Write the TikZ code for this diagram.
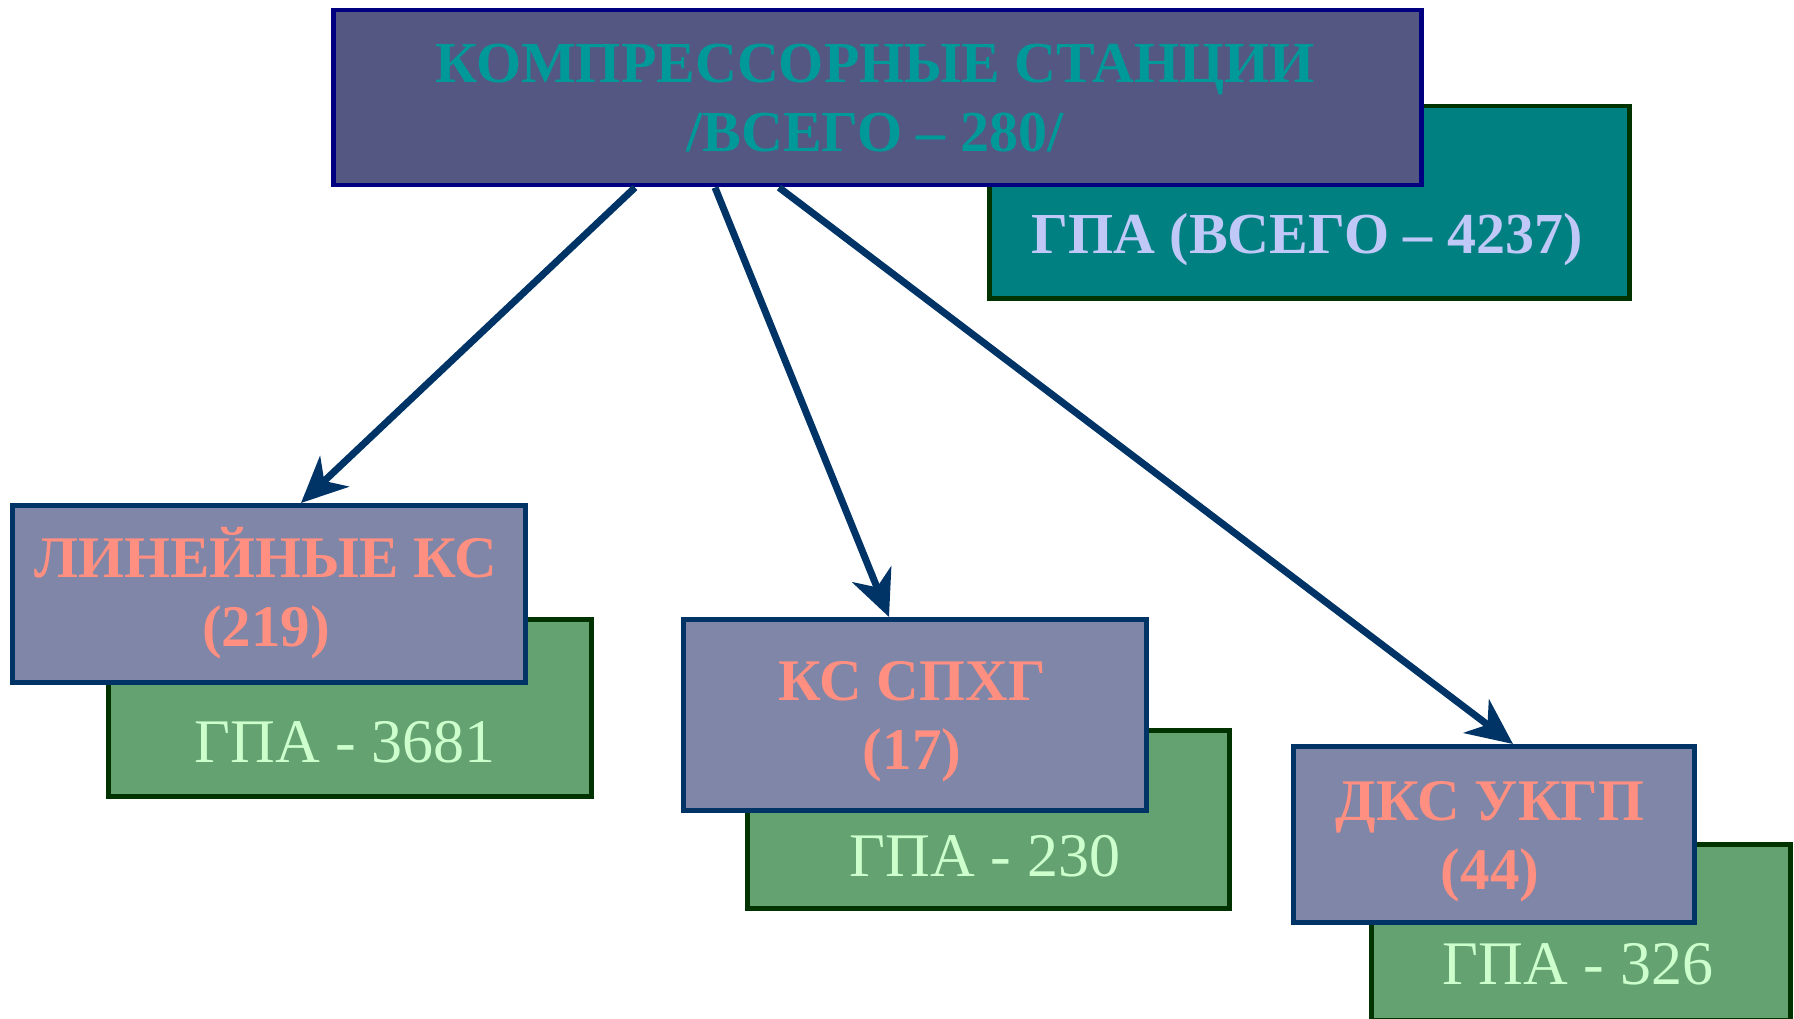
\documentclass[tikz,border=0pt]{standalone}
\usepackage{fontspec}
\setmainfont{Liberation Serif}
\usetikzlibrary{arrows.meta,calc}
\definecolor{topfill}{HTML}{545782}
\definecolor{topdraw}{HTML}{000080}
\definecolor{tealfill}{HTML}{008080}
\definecolor{darkgr}{HTML}{003300}
\definecolor{midfill}{HTML}{7F86A8}
\definecolor{navy}{HTML}{003366}
\definecolor{grfill}{HTML}{64A272}
\definecolor{titletxt}{HTML}{009999}
\definecolor{lavtxt}{HTML}{C0C8F8}
\definecolor{salmon}{HTML}{FF8F80}
\definecolor{mint}{HTML}{CCFFCC}
\begin{document}
\begin{tikzpicture}[x=1pt,y=-1pt,
  box/.style={draw, line width=4.5pt, inner sep=0pt, anchor=north west},
  topbox/.style={box, fill=topfill, draw=topdraw},
  tealbox/.style={box, fill=tealfill, draw=darkgr},
  midbox/.style={box, fill=midfill, draw=navy},
  grbox/.style={box, fill=grfill, draw=darkgr},
  ttl/.style={anchor=base, align=center, text=titletxt, font=\fontsize{58}{69}\selectfont\bfseries},
  lav/.style={anchor=base, text=lavtxt, font=\fontsize{58}{68}\selectfont\bfseries},
  sal/.style={anchor=base, align=center, text=salmon, font=\fontsize{59}{69}\selectfont\bfseries},
  mnt/.style={anchor=base, text=mint, font=\fontsize{62}{70}\selectfont},
  arr/.style={draw=navy, line width=7pt, -{Stealth[length=46pt,width=42pt,inset=14pt]}}
]
\useasboundingbox (0,0) rectangle (1794,1019);
% background boxes
\node[tealbox, minimum width=640pt, minimum height=192pt] (gpaall) at (987,104) {};
\node[topbox, minimum width=1088pt, minimum height=175pt] (top) at (331,8) {};
\node[grbox, minimum width=483pt, minimum height=177pt] (g1) at (106,617) {};
\node[midbox, minimum width=513pt, minimum height=177pt] (lin) at (10,503) {};
\node[grbox, minimum width=482pt, minimum height=178pt] (g2) at (745,728) {};
\node[midbox, minimum width=463pt, minimum height=191pt] (ks) at (681,617) {};
\node[grbox, minimum width=419pt, minimum height=176pt] (g3) at (1369,842) {};
\node[midbox, minimum width=401pt, minimum height=176pt] (dks) at (1291,744) {};
% texts
\node[ttl] (ttop) at (875,152) {КОМПРЕССОРНЫЕ СТАНЦИИ\\/ВСЕГО – 280/};
\node[lav] (tgpa) at (1307,254) {ГПА (ВСЕГО – 4237)};
\node[sal] (tlin) at (266,646) {ЛИНЕЙНЫЕ КС\\(219)};
\node[mnt] (tg1) at (345,762) {ГПА - 3681};
\node[sal] (tks) at (912,769) {КС СПХГ\\(17)};
\node[mnt] (tg2) at (985,876) {ГПА - 230};
\node[sal] (tdks) at (1490,889) {ДКС УКГП\\(44)};
\node[mnt] (tg3) at (1578,984) {ГПА - 326};
% arrows
\draw[arr] ([xshift=304pt]top.south west) -- ([xshift=291pt]lin.north west);
\draw[arr] ([xshift=384pt]top.south west) -- ([xshift=208pt]ks.north west);
\draw[arr] ([xshift=448pt]top.south west) -- ([xshift=222pt]dks.north west);
\end{tikzpicture}
\end{document}
